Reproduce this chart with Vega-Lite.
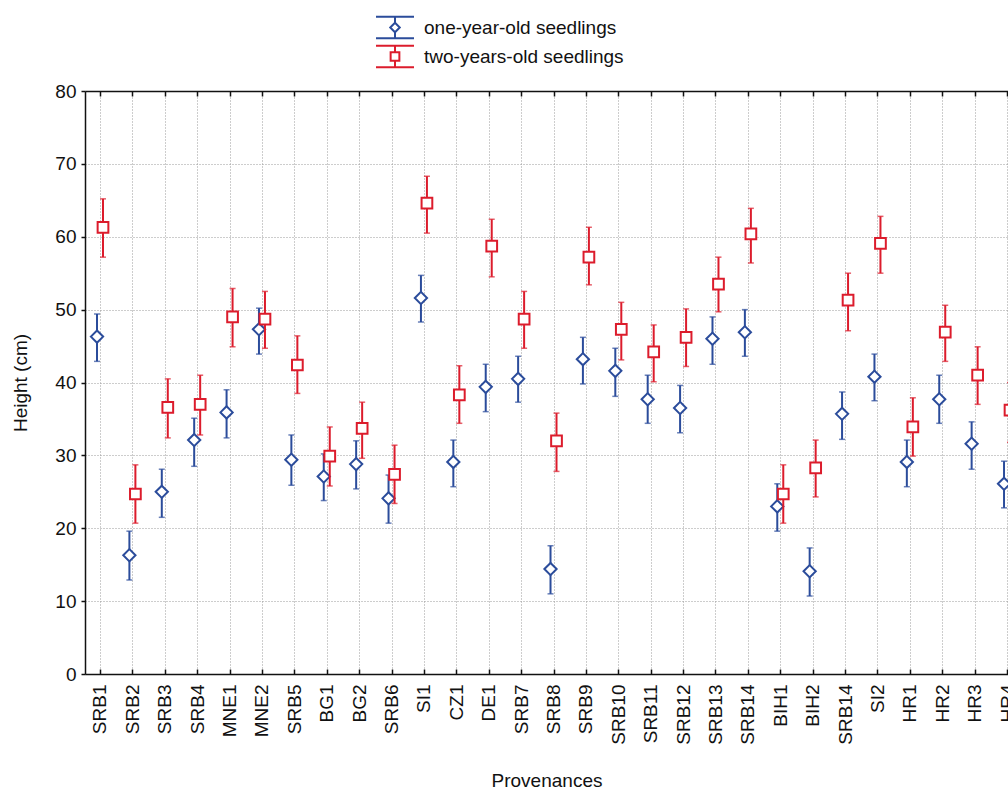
{
  "$schema": "https://vega.github.io/schema/vega-lite/v6.json",
  "width": 923,
  "height": 583,
  "autosize": {"type": "none"},
  "padding": {"left": 85, "top": 91, "right": 0, "bottom": 117},
  "background": "white",
  "config": {
    "font": "Liberation Sans",
    "view": {"stroke": null},
    "axis": {
      "labelFont": "Liberation Sans",
      "labelFontSize": 19,
      "labelColor": "#111111",
      "titleFont": "Liberation Sans",
      "titleFontSize": 19,
      "titleFontWeight": "normal",
      "titleColor": "#111111",
      "domainColor": "#111111",
      "domainWidth": 1.5,
      "tickColor": "#111111",
      "tickWidth": 1.5,
      "gridColor": "#9a9a9a",
      "gridDash": [1, 2],
      "gridWidth": 1,
      "gridOpacity": 1
    },
    "legend": {"labelFont": "Liberation Sans"}
  },
  "data": {
    "values": [
      {"id": 1, "prov": "SRB1", "series": "one-year-old seedlings", "mean": 46.3, "lo": 42.9, "hi": 49.4},
      {"id": 2, "prov": "SRB2", "series": "one-year-old seedlings", "mean": 16.3, "lo": 12.9, "hi": 19.6},
      {"id": 3, "prov": "SRB3", "series": "one-year-old seedlings", "mean": 25.0, "lo": 21.5, "hi": 28.1},
      {"id": 4, "prov": "SRB4", "series": "one-year-old seedlings", "mean": 32.1, "lo": 28.5, "hi": 35.1},
      {"id": 5, "prov": "MNE1", "series": "one-year-old seedlings", "mean": 35.9, "lo": 32.4, "hi": 39.0},
      {"id": 6, "prov": "MNE2", "series": "one-year-old seedlings", "mean": 47.3, "lo": 43.9, "hi": 50.2},
      {"id": 7, "prov": "SRB5", "series": "one-year-old seedlings", "mean": 29.4, "lo": 25.9, "hi": 32.8},
      {"id": 8, "prov": "BG1", "series": "one-year-old seedlings", "mean": 27.1, "lo": 23.8, "hi": 30.2},
      {"id": 9, "prov": "BG2", "series": "one-year-old seedlings", "mean": 28.8, "lo": 25.4, "hi": 32.0},
      {"id": 10, "prov": "SRB6", "series": "one-year-old seedlings", "mean": 24.1, "lo": 20.7, "hi": 27.3},
      {"id": 11, "prov": "SI1", "series": "one-year-old seedlings", "mean": 51.6, "lo": 48.3, "hi": 54.7},
      {"id": 12, "prov": "CZ1", "series": "one-year-old seedlings", "mean": 29.1, "lo": 25.7, "hi": 32.1},
      {"id": 13, "prov": "DE1", "series": "one-year-old seedlings", "mean": 39.4, "lo": 36.0, "hi": 42.5},
      {"id": 14, "prov": "SRB7", "series": "one-year-old seedlings", "mean": 40.5, "lo": 37.3, "hi": 43.6},
      {"id": 15, "prov": "SRB8", "series": "one-year-old seedlings", "mean": 14.4, "lo": 11.0, "hi": 17.6},
      {"id": 16, "prov": "SRB9", "series": "one-year-old seedlings", "mean": 43.2, "lo": 39.8, "hi": 46.2},
      {"id": 17, "prov": "SRB10", "series": "one-year-old seedlings", "mean": 41.6, "lo": 38.1, "hi": 44.7},
      {"id": 18, "prov": "SRB11", "series": "one-year-old seedlings", "mean": 37.7, "lo": 34.4, "hi": 41.0},
      {"id": 19, "prov": "SRB12", "series": "one-year-old seedlings", "mean": 36.5, "lo": 33.1, "hi": 39.6},
      {"id": 20, "prov": "SRB13", "series": "one-year-old seedlings", "mean": 46.0, "lo": 42.5, "hi": 49.0},
      {"id": 21, "prov": "SRB14", "series": "one-year-old seedlings", "mean": 46.9, "lo": 43.6, "hi": 50.0},
      {"id": 22, "prov": "BIH1", "series": "one-year-old seedlings", "mean": 23.0, "lo": 19.6, "hi": 26.1},
      {"id": 23, "prov": "BIH2", "series": "one-year-old seedlings", "mean": 14.1, "lo": 10.7, "hi": 17.3},
      {"id": 24, "prov": "SRB14", "series": "one-year-old seedlings", "mean": 35.7, "lo": 32.2, "hi": 38.7},
      {"id": 25, "prov": "SI2", "series": "one-year-old seedlings", "mean": 40.8, "lo": 37.5, "hi": 43.9},
      {"id": 26, "prov": "HR1", "series": "one-year-old seedlings", "mean": 29.1, "lo": 25.7, "hi": 32.1},
      {"id": 27, "prov": "HR2", "series": "one-year-old seedlings", "mean": 37.7, "lo": 34.4, "hi": 41.0},
      {"id": 28, "prov": "HR3", "series": "one-year-old seedlings", "mean": 31.6, "lo": 28.1, "hi": 34.6},
      {"id": 29, "prov": "HR4", "series": "one-year-old seedlings", "mean": 26.1, "lo": 22.8, "hi": 29.2},
      {"id": 1, "prov": "SRB1", "series": "two-years-old seedlings", "mean": 61.3, "lo": 57.2, "hi": 65.2},
      {"id": 2, "prov": "SRB2", "series": "two-years-old seedlings", "mean": 24.7, "lo": 20.7, "hi": 28.7},
      {"id": 3, "prov": "SRB3", "series": "two-years-old seedlings", "mean": 36.6, "lo": 32.4, "hi": 40.5},
      {"id": 4, "prov": "SRB4", "series": "two-years-old seedlings", "mean": 37.0, "lo": 32.8, "hi": 41.0},
      {"id": 5, "prov": "MNE1", "series": "two-years-old seedlings", "mean": 49.0, "lo": 44.9, "hi": 52.9},
      {"id": 6, "prov": "MNE2", "series": "two-years-old seedlings", "mean": 48.7, "lo": 44.7, "hi": 52.5},
      {"id": 7, "prov": "SRB5", "series": "two-years-old seedlings", "mean": 42.4, "lo": 38.5, "hi": 46.4},
      {"id": 8, "prov": "BG1", "series": "two-years-old seedlings", "mean": 29.9, "lo": 25.8, "hi": 33.9},
      {"id": 9, "prov": "BG2", "series": "two-years-old seedlings", "mean": 33.7, "lo": 29.6, "hi": 37.3},
      {"id": 10, "prov": "SRB6", "series": "two-years-old seedlings", "mean": 27.4, "lo": 23.4, "hi": 31.4},
      {"id": 11, "prov": "SI1", "series": "two-years-old seedlings", "mean": 64.6, "lo": 60.5, "hi": 68.3},
      {"id": 12, "prov": "CZ1", "series": "two-years-old seedlings", "mean": 38.3, "lo": 34.4, "hi": 42.3},
      {"id": 13, "prov": "DE1", "series": "two-years-old seedlings", "mean": 58.7, "lo": 54.5, "hi": 62.4},
      {"id": 14, "prov": "SRB7", "series": "two-years-old seedlings", "mean": 48.7, "lo": 44.7, "hi": 52.5},
      {"id": 15, "prov": "SRB8", "series": "two-years-old seedlings", "mean": 32.0, "lo": 27.8, "hi": 35.8},
      {"id": 16, "prov": "SRB9", "series": "two-years-old seedlings", "mean": 57.2, "lo": 53.4, "hi": 61.3},
      {"id": 17, "prov": "SRB10", "series": "two-years-old seedlings", "mean": 47.3, "lo": 43.1, "hi": 51.0},
      {"id": 18, "prov": "SRB11", "series": "two-years-old seedlings", "mean": 44.2, "lo": 40.1, "hi": 47.9},
      {"id": 19, "prov": "SRB12", "series": "two-years-old seedlings", "mean": 46.2, "lo": 42.2, "hi": 50.1},
      {"id": 20, "prov": "SRB13", "series": "two-years-old seedlings", "mean": 53.5, "lo": 49.7, "hi": 57.2},
      {"id": 21, "prov": "SRB14", "series": "two-years-old seedlings", "mean": 60.4, "lo": 56.4, "hi": 63.9},
      {"id": 22, "prov": "BIH1", "series": "two-years-old seedlings", "mean": 24.7, "lo": 20.7, "hi": 28.7},
      {"id": 23, "prov": "BIH2", "series": "two-years-old seedlings", "mean": 28.3, "lo": 24.3, "hi": 32.1},
      {"id": 24, "prov": "SRB14", "series": "two-years-old seedlings", "mean": 51.3, "lo": 47.1, "hi": 55.0},
      {"id": 25, "prov": "SI2", "series": "two-years-old seedlings", "mean": 59.1, "lo": 55.0, "hi": 62.8},
      {"id": 26, "prov": "HR1", "series": "two-years-old seedlings", "mean": 33.9, "lo": 29.9, "hi": 37.9},
      {"id": 27, "prov": "HR2", "series": "two-years-old seedlings", "mean": 46.9, "lo": 42.9, "hi": 50.6},
      {"id": 28, "prov": "HR3", "series": "two-years-old seedlings", "mean": 41.0, "lo": 37.0, "hi": 44.9},
      {"id": 29, "prov": "HR4", "series": "two-years-old seedlings", "mean": 36.2, "lo": 31.8, "hi": 40.0}
    ]
  },
  "resolve": {"axis": {"x": "independent"}},
  "layer": [
    {
      "transform": [{"filter": "datum.series === 'one-year-old seedlings'"}],
      "encoding": {
        "x": {
          "field": "id",
          "type": "quantitative",
          "scale": {"domain": [0.537, 29.03], "nice": false, "zero": false},
          "axis": {
            "orient": "bottom",
            "values": [1,2,3,4,5,6,7,8,9,10,11,12,13,14,15,16,17,18,19,20,21,22,23,24,25,26,27,28,29],
            "labelExpr": "['SRB1','SRB2','SRB3','SRB4','MNE1','MNE2','SRB5','BG1','BG2','SRB6','SI1','CZ1','DE1','SRB7','SRB8','SRB9','SRB10','SRB11','SRB12','SRB13','SRB14','BIH1','BIH2','SRB14','SI2','HR1','HR2','HR3','HR4'][datum.value - 1]",
            "labelAngle": -90,
            "labelPadding": 15,
            "labelOverlap": false,
            "labelFlush": false,
            "tickSize": -5,
            "grid": true,
            "title": "Provenances",
            "titlePadding": 27
          }
        }
      },
      "layer": [
        {
          "mark": {"type": "rule", "color": "#2b4c9b", "strokeWidth": 2, "xOffset": -3},
          "encoding": {
            "y": {
              "field": "lo", "type": "quantitative", "title": "Height (cm)",
              "scale": {"domain": [0, 80], "nice": false, "zero": true},
              "axis": {"values": [0,10,20,30,40,50,60,70,80], "grid": true, "tickSize": 4, "labelPadding": 5, "titlePadding": 24}
            },
            "y2": {"field": "hi"}
          }
        },
        {
          "mark": {"type": "tick", "orient": "horizontal", "color": "#2b4c9b", "size": 6, "thickness": 1.5, "xOffset": -3},
          "encoding": {"y": {"field": "hi", "type": "quantitative", "title": "Height (cm)"}}
        },
        {
          "mark": {"type": "tick", "orient": "horizontal", "color": "#2b4c9b", "size": 6, "thickness": 1.5, "xOffset": -3},
          "encoding": {"y": {"field": "lo", "type": "quantitative", "title": "Height (cm)"}}
        },
        {
          "mark": {"type": "point", "shape": "diamond", "stroke": "#2b4c9b", "fill": "white", "fillOpacity": 1, "opacity": 1, "strokeWidth": 2, "size": 150, "xOffset": -3},
          "encoding": {
            "y": {"field": "mean", "type": "quantitative", "title": "Height (cm)"}
          }
        },
        {
          "mark": {"type": "point", "opacity": 0, "strokeWidth": 2, "size": 1},
          "encoding": {
            "y": {"field": "mean", "type": "quantitative", "title": "Height (cm)"},
            "stroke": {
              "field": "series", "type": "nominal",
              "scale": {"domain": ["one-year-old seedlings", "two-years-old seedlings"], "range": ["#2b4c9b", "#dc1c2c"]},
              "legend": {
                "orient": "none", "legendX": 290, "legendY": -77, "title": null, "padding": 0,
                "direction": "vertical",
                "symbolSize": 1444, "symbolStrokeWidth": 2, "symbolFillColor": "white", "symbolOpacity": 1,
                "labelFontSize": 19, "labelColor": "#111111", "labelOffset": 9, "labelLimit": 500,
                "clipHeight": 27, "rowPadding": 2
              }
            },
            "shape": {
              "field": "series", "type": "nominal",
              "scale": {
                "domain": ["one-year-old seedlings", "two-years-old seedlings"],
                "range": [
                  "M-1,-0.57H1M0,-0.57V-0.25L0.25,0L0,0.25L-0.25,0L0,-0.25M0,0.25V0.57M-1,0.57H1",
                  "M-1,-0.57H1M0,-0.57V-0.23M-0.23,-0.23H0.23V0.23H-0.23ZM0,0.23V0.57M-1,0.57H1"
                ]
              },
              "legend": {
                "orient": "none", "legendX": 290, "legendY": -77, "title": null, "padding": 0,
                "direction": "vertical",
                "symbolSize": 1444, "symbolStrokeWidth": 2, "symbolFillColor": "white", "symbolOpacity": 1,
                "labelFontSize": 19, "labelColor": "#111111", "labelOffset": 9, "labelLimit": 500,
                "clipHeight": 27, "rowPadding": 2
              }
            }
          }
        }
      ]
    },
    {
      "transform": [{"filter": "datum.series === 'two-years-old seedlings'"}],
      "encoding": {
        "x": {
          "field": "id",
          "type": "quantitative",
          "scale": {"domain": [0.537, 29.03], "nice": false, "zero": false},
          "axis": {
            "orient": "top",
            "values": [1,2,3,4,5,6,7,8,9,10,11,12,13,14,15,16,17,18,19,20,21,22,23,24,25,26,27,28,29],
            "labels": false,
            "tickSize": -5,
            "grid": false,
            "title": null
          }
        }
      },
      "layer": [
        {
          "mark": {"type": "rule", "color": "#dc1c2c", "strokeWidth": 2, "xOffset": 3},
          "encoding": {
            "y": {"field": "lo", "type": "quantitative", "title": "Height (cm)"},
            "y2": {"field": "hi"}
          }
        },
        {
          "mark": {"type": "tick", "orient": "horizontal", "color": "#dc1c2c", "size": 6, "thickness": 1.5, "xOffset": 3},
          "encoding": {"y": {"field": "hi", "type": "quantitative", "title": "Height (cm)"}}
        },
        {
          "mark": {"type": "tick", "orient": "horizontal", "color": "#dc1c2c", "size": 6, "thickness": 1.5, "xOffset": 3},
          "encoding": {"y": {"field": "lo", "type": "quantitative", "title": "Height (cm)"}}
        },
        {
          "mark": {"type": "point", "shape": "square", "stroke": "#dc1c2c", "fill": "white", "fillOpacity": 1, "opacity": 1, "strokeWidth": 2, "size": 115, "xOffset": 3},
          "encoding": {
            "y": {"field": "mean", "type": "quantitative", "title": "Height (cm)"}
          }
        }
      ]
    }
  ]
}
